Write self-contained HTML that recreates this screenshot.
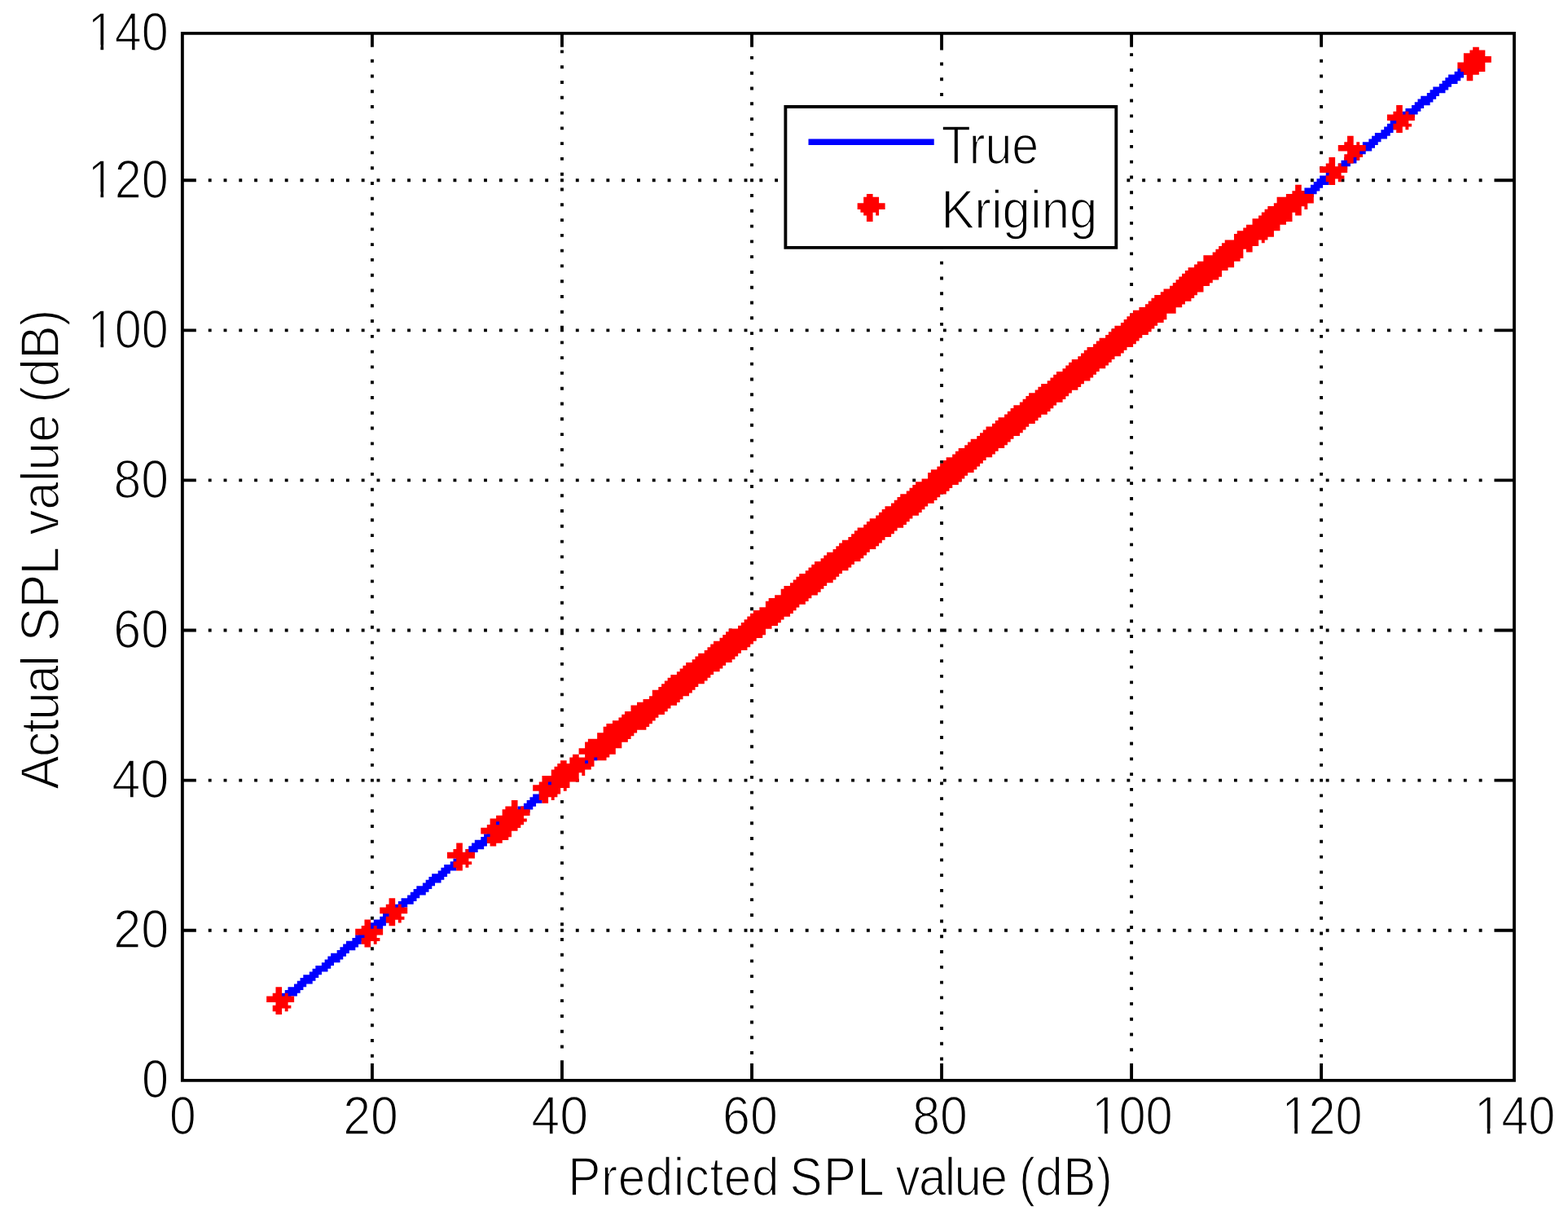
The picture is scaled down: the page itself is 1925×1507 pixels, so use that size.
<!DOCTYPE html>
<html lang="en">
<head>
<meta charset="utf-8">
<title>Predicted vs actual SPL value</title>
<style>
html,body{margin:0;padding:0;background:#fff;}
body{width:1925px;height:1507px;overflow:hidden;}
svg{display:block;}
text{font-family:"Liberation Sans",sans-serif;fill:#000;stroke:#fff;stroke-width:1.6px;stroke-linejoin:miter;}
</style>
</head>
<body>
<svg width="1925" height="1507" viewBox="0 0 1925 1507">
<rect width="1925" height="1507" fill="#fff"/>
<g transform="translate(0.175 1.373) scale(3.7588 3.7572)">
<path fill="#000" d="M59 10h436.03v1.03h-436.03zM59 352h436.03v1.03h-436.03zM59 11h1.03v47.03h-1.03zM59 59h1.03v48.03h-1.03zM59 108h1.03v48.03h-1.03zM59 157h1.03v48.03h-1.03zM59 206h1.03v48.03h-1.03zM59 255h1.03v48.03h-1.03zM59 304h1.03v48.03h-1.03zM121 11h1.03v4.03h-1.03zM121 19h1.03v1.03h-1.03zM121 24h1.03v1.03h-1.03zM121 29h1.03v1.03h-1.03zM121 34h1.03v1.03h-1.03zM121 39h1.03v1.03h-1.03zM121 44h1.03v1.03h-1.03zM121 49h1.03v1.03h-1.03zM121 54h1.03v1.03h-1.03zM121 59h1.03v1.03h-1.03zM121 64h1.03v1.03h-1.03zM121 69h1.03v1.03h-1.03zM121 74h1.03v1.03h-1.03zM121 79h1.03v1.03h-1.03zM121 84h1.03v1.03h-1.03zM121 89h1.03v1.03h-1.03zM121 94h1.03v1.03h-1.03zM121 99h1.03v1.03h-1.03zM121 104h1.03v1.03h-1.03zM121 109h1.03v1.03h-1.03zM121 114h1.03v1.03h-1.03zM121 119h1.03v1.03h-1.03zM121 124h1.03v1.03h-1.03zM121 129h1.03v1.03h-1.03zM121 134h1.03v1.03h-1.03zM121 139h1.03v1.03h-1.03zM121 144h1.03v1.03h-1.03zM121 149h1.03v1.03h-1.03zM121 154h1.03v1.03h-1.03zM121 159h1.03v1.03h-1.03zM121 164h1.03v1.03h-1.03zM121 169h1.03v1.03h-1.03zM121 174h1.03v1.03h-1.03zM121 179h1.03v1.03h-1.03zM121 184h1.03v1.03h-1.03zM121 189h1.03v1.03h-1.03zM121 194h1.03v1.03h-1.03zM121 199h1.03v1.03h-1.03zM121 204h1.03v1.03h-1.03zM121 209h1.03v1.03h-1.03zM121 214h1.03v1.03h-1.03zM121 219h1.03v1.03h-1.03zM121 224h1.03v1.03h-1.03zM121 229h1.03v1.03h-1.03zM121 234h1.03v1.03h-1.03zM121 239h1.03v1.03h-1.03zM121 244h1.03v1.03h-1.03zM121 249h1.03v1.03h-1.03zM121 254h1.03v1.03h-1.03zM121 259h1.03v1.03h-1.03zM121 264h1.03v1.03h-1.03zM121 269h1.03v1.03h-1.03zM121 274h1.03v1.03h-1.03zM121 279h1.03v1.03h-1.03zM121 284h1.03v1.03h-1.03zM121 289h1.03v1.03h-1.03zM121 294h1.03v1.03h-1.03zM121 299h1.03v1.03h-1.03zM121 304h1.03v1.03h-1.03zM121 309h1.03v1.03h-1.03zM121 314h1.03v1.03h-1.03zM121 319h1.03v1.03h-1.03zM121 324h1.03v1.03h-1.03zM121 329h1.03v1.03h-1.03zM121 334h1.03v1.03h-1.03zM121 339h1.03v1.03h-1.03zM121 344h1.03v1.03h-1.03zM121 347h1.03v5.03h-1.03zM183 11h1.03v4.03h-1.03zM183 16h1.03v1.03h-1.03zM183 21h1.03v1.03h-1.03zM183 26h1.03v1.03h-1.03zM183 31h1.03v1.03h-1.03zM183 36h1.03v1.03h-1.03zM183 41h1.03v1.03h-1.03zM183 46h1.03v1.03h-1.03zM183 51h1.03v1.03h-1.03zM183 56h1.03v1.03h-1.03zM183 58h1.03v1.03h-1.03zM183 61h1.03v1.03h-1.03zM183 66h1.03v1.03h-1.03zM183 71h1.03v1.03h-1.03zM183 76h1.03v1.03h-1.03zM183 81h1.03v1.03h-1.03zM183 86h1.03v1.03h-1.03zM183 91h1.03v1.03h-1.03zM183 96h1.03v1.03h-1.03zM183 101h1.03v1.03h-1.03zM183 106h1.03v2.03h-1.03zM183 111h1.03v1.03h-1.03zM183 116h1.03v1.03h-1.03zM183 121h1.03v1.03h-1.03zM183 126h1.03v1.03h-1.03zM183 131h1.03v1.03h-1.03zM183 136h1.03v1.03h-1.03zM183 141h1.03v1.03h-1.03zM183 146h1.03v1.03h-1.03zM183 151h1.03v1.03h-1.03zM183 156h1.03v1.03h-1.03zM183 161h1.03v1.03h-1.03zM183 166h1.03v1.03h-1.03zM183 171h1.03v1.03h-1.03zM183 176h1.03v1.03h-1.03zM183 181h1.03v1.03h-1.03zM183 186h1.03v1.03h-1.03zM183 191h1.03v1.03h-1.03zM183 196h1.03v1.03h-1.03zM183 201h1.03v1.03h-1.03zM183 205h1.03v2.03h-1.03zM183 211h1.03v1.03h-1.03zM183 216h1.03v1.03h-1.03zM183 221h1.03v1.03h-1.03zM183 226h1.03v1.03h-1.03zM183 231h1.03v1.03h-1.03zM183 236h1.03v1.03h-1.03zM183 241h1.03v1.03h-1.03zM183 246h1.03v1.03h-1.03zM183 251h1.03v1.03h-1.03zM183 254h1.03v1.03h-1.03zM183 256h1.03v1.03h-1.03zM183 261h1.03v1.03h-1.03zM183 266h1.03v1.03h-1.03zM183 271h1.03v1.03h-1.03zM183 276h1.03v1.03h-1.03zM183 281h1.03v1.03h-1.03zM183 286h1.03v1.03h-1.03zM183 291h1.03v1.03h-1.03zM183 296h1.03v1.03h-1.03zM183 301h1.03v1.03h-1.03zM183 303h1.03v1.03h-1.03zM183 306h1.03v1.03h-1.03zM183 311h1.03v1.03h-1.03zM183 316h1.03v1.03h-1.03zM183 321h1.03v1.03h-1.03zM183 326h1.03v1.03h-1.03zM183 331h1.03v1.03h-1.03zM183 336h1.03v1.03h-1.03zM183 341h1.03v1.03h-1.03zM183 346h1.03v6.03h-1.03zM245 11h1.03v4.03h-1.03zM245 18h1.03v1.03h-1.03zM245 23h1.03v1.03h-1.03zM245 28h1.03v1.03h-1.03zM245 33h1.03v1.03h-1.03zM245 38h1.03v1.03h-1.03zM245 43h1.03v1.03h-1.03zM245 48h1.03v1.03h-1.03zM245 53h1.03v1.03h-1.03zM245 58h1.03v1.03h-1.03zM245 63h1.03v1.03h-1.03zM245 68h1.03v1.03h-1.03zM245 73h1.03v1.03h-1.03zM245 78h1.03v1.03h-1.03zM245 83h1.03v1.03h-1.03zM245 88h1.03v1.03h-1.03zM245 93h1.03v1.03h-1.03zM245 98h1.03v1.03h-1.03zM245 103h1.03v1.03h-1.03zM245 108h1.03v1.03h-1.03zM245 113h1.03v1.03h-1.03zM245 118h1.03v1.03h-1.03zM245 123h1.03v1.03h-1.03zM245 128h1.03v1.03h-1.03zM245 133h1.03v1.03h-1.03zM245 138h1.03v1.03h-1.03zM245 143h1.03v1.03h-1.03zM245 148h1.03v1.03h-1.03zM245 153h1.03v1.03h-1.03zM245 158h1.03v1.03h-1.03zM245 163h1.03v1.03h-1.03zM245 168h1.03v1.03h-1.03zM245 173h1.03v1.03h-1.03zM245 178h1.03v1.03h-1.03zM245 183h1.03v1.03h-1.03zM245 188h1.03v1.03h-1.03zM245 193h1.03v1.03h-1.03zM245 198h1.03v1.03h-1.03zM245 203h1.03v1.03h-1.03zM245 208h1.03v1.03h-1.03zM245 213h1.03v1.03h-1.03zM245 218h1.03v1.03h-1.03zM245 223h1.03v1.03h-1.03zM245 228h1.03v1.03h-1.03zM245 233h1.03v1.03h-1.03zM245 238h1.03v1.03h-1.03zM245 243h1.03v1.03h-1.03zM245 248h1.03v1.03h-1.03zM245 253h1.03v1.03h-1.03zM245 258h1.03v1.03h-1.03zM245 263h1.03v1.03h-1.03zM245 268h1.03v1.03h-1.03zM245 273h1.03v1.03h-1.03zM245 278h1.03v1.03h-1.03zM245 283h1.03v1.03h-1.03zM245 288h1.03v1.03h-1.03zM245 293h1.03v1.03h-1.03zM245 298h1.03v1.03h-1.03zM245 303h1.03v1.03h-1.03zM245 308h1.03v1.03h-1.03zM245 313h1.03v1.03h-1.03zM245 318h1.03v1.03h-1.03zM245 323h1.03v1.03h-1.03zM245 328h1.03v1.03h-1.03zM245 333h1.03v1.03h-1.03zM245 338h1.03v1.03h-1.03zM245 343h1.03v1.03h-1.03zM245 347h1.03v5.03h-1.03zM307 11h1.03v5.03h-1.03zM307 20h1.03v1.03h-1.03zM307 25h1.03v1.03h-1.03zM307 30h1.03v1.03h-1.03zM307 35h1.03v1.03h-1.03zM307 40h1.03v1.03h-1.03zM307 45h1.03v1.03h-1.03zM307 50h1.03v1.03h-1.03zM307 55h1.03v1.03h-1.03zM307 60h1.03v1.03h-1.03zM307 65h1.03v1.03h-1.03zM307 70h1.03v1.03h-1.03zM307 75h1.03v1.03h-1.03zM307 80h1.03v1.03h-1.03zM307 85h1.03v1.03h-1.03zM307 90h1.03v1.03h-1.03zM307 95h1.03v1.03h-1.03zM307 100h1.03v1.03h-1.03zM307 105h1.03v1.03h-1.03zM307 110h1.03v1.03h-1.03zM307 115h1.03v1.03h-1.03zM307 120h1.03v1.03h-1.03zM307 125h1.03v1.03h-1.03zM307 130h1.03v1.03h-1.03zM307 135h1.03v1.03h-1.03zM307 140h1.03v1.03h-1.03zM307 145h1.03v1.03h-1.03zM307 150h1.03v1.03h-1.03zM307 155h1.03v1.03h-1.03zM307 160h1.03v1.03h-1.03zM307 165h1.03v1.03h-1.03zM307 170h1.03v1.03h-1.03zM307 175h1.03v1.03h-1.03zM307 180h1.03v1.03h-1.03zM307 185h1.03v1.03h-1.03zM307 190h1.03v1.03h-1.03zM307 195h1.03v1.03h-1.03zM307 200h1.03v1.03h-1.03zM307 210h1.03v1.03h-1.03zM307 215h1.03v1.03h-1.03zM307 220h1.03v1.03h-1.03zM307 225h1.03v1.03h-1.03zM307 230h1.03v1.03h-1.03zM307 235h1.03v1.03h-1.03zM307 240h1.03v1.03h-1.03zM307 245h1.03v1.03h-1.03zM307 250h1.03v1.03h-1.03zM307 255h1.03v1.03h-1.03zM307 260h1.03v1.03h-1.03zM307 265h1.03v1.03h-1.03zM307 270h1.03v1.03h-1.03zM307 275h1.03v1.03h-1.03zM307 280h1.03v1.03h-1.03zM307 285h1.03v1.03h-1.03zM307 290h1.03v1.03h-1.03zM307 295h1.03v1.03h-1.03zM307 300h1.03v1.03h-1.03zM307 305h1.03v1.03h-1.03zM307 310h1.03v1.03h-1.03zM307 315h1.03v1.03h-1.03zM307 320h1.03v1.03h-1.03zM307 325h1.03v1.03h-1.03zM307 330h1.03v1.03h-1.03zM307 335h1.03v1.03h-1.03zM307 340h1.03v1.03h-1.03zM307 345h1.03v1.03h-1.03zM307 347h1.03v5.03h-1.03zM369 11h1.03v4.03h-1.03zM369 17h1.03v1.03h-1.03zM369 22h1.03v1.03h-1.03zM369 27h1.03v1.03h-1.03zM369 32h1.03v1.03h-1.03zM369 37h1.03v1.03h-1.03zM369 42h1.03v1.03h-1.03zM369 47h1.03v1.03h-1.03zM369 52h1.03v1.03h-1.03zM369 57h1.03v1.03h-1.03zM369 62h1.03v1.03h-1.03zM369 67h1.03v1.03h-1.03zM369 72h1.03v1.03h-1.03zM369 77h1.03v1.03h-1.03zM369 82h1.03v1.03h-1.03zM369 87h1.03v1.03h-1.03zM369 92h1.03v1.03h-1.03zM369 97h1.03v1.03h-1.03zM369 102h1.03v1.03h-1.03zM369 112h1.03v1.03h-1.03zM369 117h1.03v1.03h-1.03zM369 122h1.03v1.03h-1.03zM369 127h1.03v1.03h-1.03zM369 132h1.03v1.03h-1.03zM369 137h1.03v1.03h-1.03zM369 142h1.03v1.03h-1.03zM369 147h1.03v1.03h-1.03zM369 152h1.03v1.03h-1.03zM369 157h1.03v1.03h-1.03zM369 162h1.03v1.03h-1.03zM369 167h1.03v1.03h-1.03zM369 172h1.03v1.03h-1.03zM369 177h1.03v1.03h-1.03zM369 182h1.03v1.03h-1.03zM369 187h1.03v1.03h-1.03zM369 192h1.03v1.03h-1.03zM369 197h1.03v1.03h-1.03zM369 202h1.03v1.03h-1.03zM369 207h1.03v1.03h-1.03zM369 212h1.03v1.03h-1.03zM369 217h1.03v1.03h-1.03zM369 222h1.03v1.03h-1.03zM369 227h1.03v1.03h-1.03zM369 232h1.03v1.03h-1.03zM369 237h1.03v1.03h-1.03zM369 242h1.03v1.03h-1.03zM369 247h1.03v1.03h-1.03zM369 252h1.03v1.03h-1.03zM369 257h1.03v1.03h-1.03zM369 262h1.03v1.03h-1.03zM369 267h1.03v1.03h-1.03zM369 272h1.03v1.03h-1.03zM369 277h1.03v1.03h-1.03zM369 282h1.03v1.03h-1.03zM369 287h1.03v1.03h-1.03zM369 292h1.03v1.03h-1.03zM369 297h1.03v1.03h-1.03zM369 302h1.03v1.03h-1.03zM369 307h1.03v1.03h-1.03zM369 312h1.03v1.03h-1.03zM369 317h1.03v1.03h-1.03zM369 322h1.03v1.03h-1.03zM369 327h1.03v1.03h-1.03zM369 332h1.03v1.03h-1.03zM369 337h1.03v1.03h-1.03zM369 342h1.03v1.03h-1.03zM369 347h1.03v5.03h-1.03zM431 11h1.03v4.03h-1.03zM431 19h1.03v1.03h-1.03zM431 24h1.03v1.03h-1.03zM431 29h1.03v1.03h-1.03zM431 34h1.03v1.03h-1.03zM431 39h1.03v1.03h-1.03zM431 44h1.03v1.03h-1.03zM431 49h1.03v1.03h-1.03zM431 54h1.03v1.03h-1.03zM431 59h1.03v1.03h-1.03zM431 64h1.03v1.03h-1.03zM431 69h1.03v1.03h-1.03zM431 74h1.03v1.03h-1.03zM431 79h1.03v1.03h-1.03zM431 84h1.03v1.03h-1.03zM431 89h1.03v1.03h-1.03zM431 94h1.03v1.03h-1.03zM431 99h1.03v1.03h-1.03zM431 104h1.03v1.03h-1.03zM431 109h1.03v1.03h-1.03zM431 114h1.03v1.03h-1.03zM431 119h1.03v1.03h-1.03zM431 124h1.03v1.03h-1.03zM431 129h1.03v1.03h-1.03zM431 134h1.03v1.03h-1.03zM431 139h1.03v1.03h-1.03zM431 144h1.03v1.03h-1.03zM431 149h1.03v1.03h-1.03zM431 154h1.03v1.03h-1.03zM431 159h1.03v1.03h-1.03zM431 164h1.03v1.03h-1.03zM431 169h1.03v1.03h-1.03zM431 174h1.03v1.03h-1.03zM431 179h1.03v1.03h-1.03zM431 184h1.03v1.03h-1.03zM431 189h1.03v1.03h-1.03zM431 194h1.03v1.03h-1.03zM431 199h1.03v1.03h-1.03zM431 204h1.03v1.03h-1.03zM431 209h1.03v1.03h-1.03zM431 214h1.03v1.03h-1.03zM431 219h1.03v1.03h-1.03zM431 224h1.03v1.03h-1.03zM431 229h1.03v1.03h-1.03zM431 234h1.03v1.03h-1.03zM431 239h1.03v1.03h-1.03zM431 244h1.03v1.03h-1.03zM431 249h1.03v1.03h-1.03zM431 254h1.03v1.03h-1.03zM431 259h1.03v1.03h-1.03zM431 264h1.03v1.03h-1.03zM431 269h1.03v1.03h-1.03zM431 274h1.03v1.03h-1.03zM431 279h1.03v1.03h-1.03zM431 284h1.03v1.03h-1.03zM431 289h1.03v1.03h-1.03zM431 294h1.03v1.03h-1.03zM431 299h1.03v1.03h-1.03zM431 304h1.03v1.03h-1.03zM431 309h1.03v1.03h-1.03zM431 314h1.03v1.03h-1.03zM431 319h1.03v1.03h-1.03zM431 324h1.03v1.03h-1.03zM431 329h1.03v1.03h-1.03zM431 334h1.03v1.03h-1.03zM431 339h1.03v1.03h-1.03zM431 344h1.03v1.03h-1.03zM431 347h1.03v5.03h-1.03zM494 11h1.03v47.03h-1.03zM494 59h1.03v48.03h-1.03zM494 108h1.03v48.03h-1.03zM494 157h1.03v48.03h-1.03zM494 206h1.03v48.03h-1.03zM494 255h1.03v48.03h-1.03zM494 304h1.03v48.03h-1.03zM59 58h5.03v1.03h-5.03zM59 107h5.03v1.03h-5.03zM59 156h5.03v1.03h-5.03zM59 205h5.03v1.03h-5.03zM59 254h5.03v1.03h-5.03zM59 303h5.03v1.03h-5.03zM68 58h1.03v1.03h-1.03zM68 107h1.03v1.03h-1.03zM68 156h1.03v1.03h-1.03zM68 205h1.03v1.03h-1.03zM68 254h1.03v1.03h-1.03zM68 303h1.03v1.03h-1.03zM73 58h1.03v1.03h-1.03zM73 107h1.03v1.03h-1.03zM73 156h1.03v1.03h-1.03zM73 205h1.03v1.03h-1.03zM73 254h1.03v1.03h-1.03zM73 303h1.03v1.03h-1.03zM78 58h1.03v1.03h-1.03zM78 107h1.03v1.03h-1.03zM78 156h1.03v1.03h-1.03zM78 205h1.03v1.03h-1.03zM78 254h1.03v1.03h-1.03zM78 303h1.03v1.03h-1.03zM83 58h1.03v1.03h-1.03zM83 107h1.03v1.03h-1.03zM83 156h1.03v1.03h-1.03zM83 205h1.03v1.03h-1.03zM83 254h1.03v1.03h-1.03zM83 303h1.03v1.03h-1.03zM88 58h1.03v1.03h-1.03zM88 107h1.03v1.03h-1.03zM88 156h1.03v1.03h-1.03zM88 205h1.03v1.03h-1.03zM88 254h1.03v1.03h-1.03zM88 303h1.03v1.03h-1.03zM93 58h1.03v1.03h-1.03zM93 107h1.03v1.03h-1.03zM93 156h1.03v1.03h-1.03zM93 205h1.03v1.03h-1.03zM93 254h1.03v1.03h-1.03zM93 303h1.03v1.03h-1.03zM98 58h1.03v1.03h-1.03zM98 107h1.03v1.03h-1.03zM98 156h1.03v1.03h-1.03zM98 205h1.03v1.03h-1.03zM98 254h1.03v1.03h-1.03zM98 303h1.03v1.03h-1.03zM103 58h1.03v1.03h-1.03zM103 107h1.03v1.03h-1.03zM103 156h1.03v1.03h-1.03zM103 205h1.03v1.03h-1.03zM103 254h1.03v1.03h-1.03zM103 303h1.03v1.03h-1.03zM108 58h1.03v1.03h-1.03zM108 107h1.03v1.03h-1.03zM108 156h1.03v1.03h-1.03zM108 205h1.03v1.03h-1.03zM108 254h1.03v1.03h-1.03zM108 303h1.03v1.03h-1.03zM113 58h1.03v1.03h-1.03zM113 107h1.03v1.03h-1.03zM113 156h1.03v1.03h-1.03zM113 205h1.03v1.03h-1.03zM113 254h1.03v1.03h-1.03zM113 303h1.03v1.03h-1.03zM118 58h1.03v1.03h-1.03zM118 107h1.03v1.03h-1.03zM118 156h1.03v1.03h-1.03zM118 205h1.03v1.03h-1.03zM118 254h1.03v1.03h-1.03zM118 303h1.03v1.03h-1.03zM123 58h1.03v1.03h-1.03zM123 107h1.03v1.03h-1.03zM123 156h1.03v1.03h-1.03zM123 205h1.03v1.03h-1.03zM123 254h1.03v1.03h-1.03zM123 303h1.03v1.03h-1.03zM128 58h1.03v1.03h-1.03zM128 107h1.03v1.03h-1.03zM128 156h1.03v1.03h-1.03zM128 205h1.03v1.03h-1.03zM128 254h1.03v1.03h-1.03zM128 303h1.03v1.03h-1.03zM133 58h1.03v1.03h-1.03zM133 107h1.03v1.03h-1.03zM133 156h1.03v1.03h-1.03zM133 205h1.03v1.03h-1.03zM133 254h1.03v1.03h-1.03zM133 303h1.03v1.03h-1.03zM138 58h1.03v1.03h-1.03zM138 107h1.03v1.03h-1.03zM138 156h1.03v1.03h-1.03zM138 205h1.03v1.03h-1.03zM138 254h1.03v1.03h-1.03zM138 303h1.03v1.03h-1.03zM143 58h1.03v1.03h-1.03zM143 107h1.03v1.03h-1.03zM143 156h1.03v1.03h-1.03zM143 205h1.03v1.03h-1.03zM143 254h1.03v1.03h-1.03zM143 303h1.03v1.03h-1.03zM148 58h1.03v1.03h-1.03zM148 107h1.03v1.03h-1.03zM148 156h1.03v1.03h-1.03zM148 205h1.03v1.03h-1.03zM148 254h1.03v1.03h-1.03zM148 303h1.03v1.03h-1.03zM153 58h1.03v1.03h-1.03zM153 107h1.03v1.03h-1.03zM153 156h1.03v1.03h-1.03zM153 205h1.03v1.03h-1.03zM153 254h1.03v1.03h-1.03zM153 303h1.03v1.03h-1.03zM158 58h1.03v1.03h-1.03zM158 107h1.03v1.03h-1.03zM158 156h1.03v1.03h-1.03zM158 205h1.03v1.03h-1.03zM158 254h1.03v1.03h-1.03zM158 303h1.03v1.03h-1.03zM163 58h1.03v1.03h-1.03zM163 107h1.03v1.03h-1.03zM163 156h1.03v1.03h-1.03zM163 205h1.03v1.03h-1.03zM163 254h1.03v1.03h-1.03zM163 303h1.03v1.03h-1.03zM168 58h1.03v1.03h-1.03zM168 107h1.03v1.03h-1.03zM168 156h1.03v1.03h-1.03zM168 205h1.03v1.03h-1.03zM168 254h1.03v1.03h-1.03zM168 303h1.03v1.03h-1.03zM173 58h1.03v1.03h-1.03zM173 107h1.03v1.03h-1.03zM173 156h1.03v1.03h-1.03zM173 205h1.03v1.03h-1.03zM173 254h1.03v1.03h-1.03zM173 303h1.03v1.03h-1.03zM178 58h1.03v1.03h-1.03zM178 107h1.03v1.03h-1.03zM178 156h1.03v1.03h-1.03zM178 205h1.03v1.03h-1.03zM178 254h1.03v1.03h-1.03zM178 303h1.03v1.03h-1.03zM188 58h1.03v1.03h-1.03zM188 107h1.03v1.03h-1.03zM188 156h1.03v1.03h-1.03zM188 205h1.03v1.03h-1.03zM188 254h1.03v1.03h-1.03zM188 303h1.03v1.03h-1.03zM193 58h1.03v1.03h-1.03zM193 107h1.03v1.03h-1.03zM193 156h1.03v1.03h-1.03zM193 205h1.03v1.03h-1.03zM193 254h1.03v1.03h-1.03zM193 303h1.03v1.03h-1.03zM198 58h1.03v1.03h-1.03zM198 107h1.03v1.03h-1.03zM198 156h1.03v1.03h-1.03zM198 205h1.03v1.03h-1.03zM198 254h1.03v1.03h-1.03zM198 303h1.03v1.03h-1.03zM203 58h1.03v1.03h-1.03zM203 107h1.03v1.03h-1.03zM203 156h1.03v1.03h-1.03zM203 205h1.03v1.03h-1.03zM203 254h1.03v1.03h-1.03zM203 303h1.03v1.03h-1.03zM208 58h1.03v1.03h-1.03zM208 107h1.03v1.03h-1.03zM208 156h1.03v1.03h-1.03zM208 205h1.03v1.03h-1.03zM208 254h1.03v1.03h-1.03zM208 303h1.03v1.03h-1.03zM213 58h1.03v1.03h-1.03zM213 107h1.03v1.03h-1.03zM213 156h1.03v1.03h-1.03zM213 205h1.03v1.03h-1.03zM213 254h1.03v1.03h-1.03zM213 303h1.03v1.03h-1.03zM218 58h1.03v1.03h-1.03zM218 107h1.03v1.03h-1.03zM218 156h1.03v1.03h-1.03zM218 205h1.03v1.03h-1.03zM218 254h1.03v1.03h-1.03zM218 303h1.03v1.03h-1.03zM223 58h1.03v1.03h-1.03zM223 107h1.03v1.03h-1.03zM223 156h1.03v1.03h-1.03zM223 205h1.03v1.03h-1.03zM223 254h1.03v1.03h-1.03zM223 303h1.03v1.03h-1.03zM228 58h1.03v1.03h-1.03zM228 107h1.03v1.03h-1.03zM228 156h1.03v1.03h-1.03zM228 205h1.03v1.03h-1.03zM228 254h1.03v1.03h-1.03zM228 303h1.03v1.03h-1.03zM233 58h1.03v1.03h-1.03zM233 107h1.03v1.03h-1.03zM233 156h1.03v1.03h-1.03zM233 205h1.03v1.03h-1.03zM233 254h1.03v1.03h-1.03zM233 303h1.03v1.03h-1.03zM238 58h1.03v1.03h-1.03zM238 107h1.03v1.03h-1.03zM238 156h1.03v1.03h-1.03zM238 205h1.03v1.03h-1.03zM238 254h1.03v1.03h-1.03zM238 303h1.03v1.03h-1.03zM243 58h1.03v1.03h-1.03zM243 107h1.03v1.03h-1.03zM243 156h1.03v1.03h-1.03zM243 205h1.03v1.03h-1.03zM243 254h1.03v1.03h-1.03zM243 303h1.03v1.03h-1.03zM248 58h1.03v1.03h-1.03zM248 107h1.03v1.03h-1.03zM248 156h1.03v1.03h-1.03zM248 205h1.03v1.03h-1.03zM248 254h1.03v1.03h-1.03zM248 303h1.03v1.03h-1.03zM253 58h1.03v1.03h-1.03zM253 107h1.03v1.03h-1.03zM253 156h1.03v1.03h-1.03zM253 205h1.03v1.03h-1.03zM253 254h1.03v1.03h-1.03zM253 303h1.03v1.03h-1.03zM258 58h1.03v1.03h-1.03zM258 107h1.03v1.03h-1.03zM258 156h1.03v1.03h-1.03zM258 205h1.03v1.03h-1.03zM258 254h1.03v1.03h-1.03zM258 303h1.03v1.03h-1.03zM263 58h1.03v1.03h-1.03zM263 107h1.03v1.03h-1.03zM263 156h1.03v1.03h-1.03zM263 205h1.03v1.03h-1.03zM263 254h1.03v1.03h-1.03zM263 303h1.03v1.03h-1.03zM268 58h1.03v1.03h-1.03zM268 107h1.03v1.03h-1.03zM268 156h1.03v1.03h-1.03zM268 205h1.03v1.03h-1.03zM268 254h1.03v1.03h-1.03zM268 303h1.03v1.03h-1.03zM273 58h1.03v1.03h-1.03zM273 107h1.03v1.03h-1.03zM273 156h1.03v1.03h-1.03zM273 205h1.03v1.03h-1.03zM273 254h1.03v1.03h-1.03zM273 303h1.03v1.03h-1.03zM278 58h1.03v1.03h-1.03zM278 107h1.03v1.03h-1.03zM278 156h1.03v1.03h-1.03zM278 205h1.03v1.03h-1.03zM278 254h1.03v1.03h-1.03zM278 303h1.03v1.03h-1.03zM283 58h1.03v1.03h-1.03zM283 107h1.03v1.03h-1.03zM283 156h1.03v1.03h-1.03zM283 205h1.03v1.03h-1.03zM283 254h1.03v1.03h-1.03zM283 303h1.03v1.03h-1.03zM288 58h1.03v1.03h-1.03zM288 107h1.03v1.03h-1.03zM288 156h1.03v1.03h-1.03zM288 205h1.03v1.03h-1.03zM288 254h1.03v1.03h-1.03zM288 303h1.03v1.03h-1.03zM293 58h1.03v1.03h-1.03zM293 107h1.03v1.03h-1.03zM293 156h1.03v1.03h-1.03zM293 205h1.03v1.03h-1.03zM293 254h1.03v1.03h-1.03zM293 303h1.03v1.03h-1.03zM298 58h1.03v1.03h-1.03zM298 107h1.03v1.03h-1.03zM298 156h1.03v1.03h-1.03zM298 205h1.03v1.03h-1.03zM298 254h1.03v1.03h-1.03zM298 303h1.03v1.03h-1.03zM303 58h1.03v1.03h-1.03zM303 107h1.03v1.03h-1.03zM303 156h1.03v1.03h-1.03zM303 205h1.03v1.03h-1.03zM303 254h1.03v1.03h-1.03zM303 303h1.03v1.03h-1.03zM308 58h1.03v1.03h-1.03zM308 107h1.03v1.03h-1.03zM308 156h1.03v1.03h-1.03zM308 254h1.03v1.03h-1.03zM308 303h1.03v1.03h-1.03zM313 58h1.03v1.03h-1.03zM313 107h1.03v1.03h-1.03zM313 156h1.03v1.03h-1.03zM313 205h1.03v1.03h-1.03zM313 254h1.03v1.03h-1.03zM313 303h1.03v1.03h-1.03zM318 58h1.03v1.03h-1.03zM318 107h1.03v1.03h-1.03zM318 156h1.03v1.03h-1.03zM318 205h1.03v1.03h-1.03zM318 254h1.03v1.03h-1.03zM318 303h1.03v1.03h-1.03zM323 58h1.03v1.03h-1.03zM323 107h1.03v1.03h-1.03zM323 156h1.03v1.03h-1.03zM323 205h1.03v1.03h-1.03zM323 254h1.03v1.03h-1.03zM323 303h1.03v1.03h-1.03zM328 58h1.03v1.03h-1.03zM328 107h1.03v1.03h-1.03zM328 156h1.03v1.03h-1.03zM328 205h1.03v1.03h-1.03zM328 254h1.03v1.03h-1.03zM328 303h1.03v1.03h-1.03zM333 58h1.03v1.03h-1.03zM333 107h1.03v1.03h-1.03zM333 156h1.03v1.03h-1.03zM333 205h1.03v1.03h-1.03zM333 254h1.03v1.03h-1.03zM333 303h1.03v1.03h-1.03zM338 58h1.03v1.03h-1.03zM338 107h1.03v1.03h-1.03zM338 156h1.03v1.03h-1.03zM338 205h1.03v1.03h-1.03zM338 254h1.03v1.03h-1.03zM338 303h1.03v1.03h-1.03zM343 58h1.03v1.03h-1.03zM343 107h1.03v1.03h-1.03zM343 156h1.03v1.03h-1.03zM343 205h1.03v1.03h-1.03zM343 254h1.03v1.03h-1.03zM343 303h1.03v1.03h-1.03zM348 58h1.03v1.03h-1.03zM348 107h1.03v1.03h-1.03zM348 156h1.03v1.03h-1.03zM348 205h1.03v1.03h-1.03zM348 254h1.03v1.03h-1.03zM348 303h1.03v1.03h-1.03zM353 58h1.03v1.03h-1.03zM353 107h1.03v1.03h-1.03zM353 156h1.03v1.03h-1.03zM353 205h1.03v1.03h-1.03zM353 254h1.03v1.03h-1.03zM353 303h1.03v1.03h-1.03zM358 58h1.03v1.03h-1.03zM358 107h1.03v1.03h-1.03zM358 156h1.03v1.03h-1.03zM358 205h1.03v1.03h-1.03zM358 254h1.03v1.03h-1.03zM358 303h1.03v1.03h-1.03zM363 58h1.03v1.03h-1.03zM363 107h1.03v1.03h-1.03zM363 156h1.03v1.03h-1.03zM363 205h1.03v1.03h-1.03zM363 254h1.03v1.03h-1.03zM363 303h1.03v1.03h-1.03zM368 58h1.03v1.03h-1.03zM368 156h1.03v1.03h-1.03zM368 205h1.03v1.03h-1.03zM368 254h1.03v1.03h-1.03zM368 303h1.03v1.03h-1.03zM373 58h1.03v1.03h-1.03zM373 107h1.03v1.03h-1.03zM373 156h1.03v1.03h-1.03zM373 205h1.03v1.03h-1.03zM373 254h1.03v1.03h-1.03zM373 303h1.03v1.03h-1.03zM378 58h1.03v1.03h-1.03zM378 107h1.03v1.03h-1.03zM378 156h1.03v1.03h-1.03zM378 205h1.03v1.03h-1.03zM378 254h1.03v1.03h-1.03zM378 303h1.03v1.03h-1.03zM383 58h1.03v1.03h-1.03zM383 107h1.03v1.03h-1.03zM383 156h1.03v1.03h-1.03zM383 205h1.03v1.03h-1.03zM383 254h1.03v1.03h-1.03zM383 303h1.03v1.03h-1.03zM388 58h1.03v1.03h-1.03zM388 107h1.03v1.03h-1.03zM388 156h1.03v1.03h-1.03zM388 205h1.03v1.03h-1.03zM388 254h1.03v1.03h-1.03zM388 303h1.03v1.03h-1.03zM393 58h1.03v1.03h-1.03zM393 107h1.03v1.03h-1.03zM393 156h1.03v1.03h-1.03zM393 205h1.03v1.03h-1.03zM393 254h1.03v1.03h-1.03zM393 303h1.03v1.03h-1.03zM398 58h1.03v1.03h-1.03zM398 107h1.03v1.03h-1.03zM398 156h1.03v1.03h-1.03zM398 205h1.03v1.03h-1.03zM398 254h1.03v1.03h-1.03zM398 303h1.03v1.03h-1.03zM403 58h1.03v1.03h-1.03zM403 107h1.03v1.03h-1.03zM403 156h1.03v1.03h-1.03zM403 205h1.03v1.03h-1.03zM403 254h1.03v1.03h-1.03zM403 303h1.03v1.03h-1.03zM408 58h1.03v1.03h-1.03zM408 107h1.03v1.03h-1.03zM408 156h1.03v1.03h-1.03zM408 205h1.03v1.03h-1.03zM408 254h1.03v1.03h-1.03zM408 303h1.03v1.03h-1.03zM413 58h1.03v1.03h-1.03zM413 107h1.03v1.03h-1.03zM413 156h1.03v1.03h-1.03zM413 205h1.03v1.03h-1.03zM413 254h1.03v1.03h-1.03zM413 303h1.03v1.03h-1.03zM418 58h1.03v1.03h-1.03zM418 107h1.03v1.03h-1.03zM418 156h1.03v1.03h-1.03zM418 205h1.03v1.03h-1.03zM418 254h1.03v1.03h-1.03zM418 303h1.03v1.03h-1.03zM423 58h1.03v1.03h-1.03zM423 107h1.03v1.03h-1.03zM423 156h1.03v1.03h-1.03zM423 205h1.03v1.03h-1.03zM423 254h1.03v1.03h-1.03zM423 303h1.03v1.03h-1.03zM428 58h1.03v1.03h-1.03zM428 107h1.03v1.03h-1.03zM428 156h1.03v1.03h-1.03zM428 205h1.03v1.03h-1.03zM428 254h1.03v1.03h-1.03zM428 303h1.03v1.03h-1.03zM433 58h1.03v1.03h-1.03zM433 107h1.03v1.03h-1.03zM433 156h1.03v1.03h-1.03zM433 205h1.03v1.03h-1.03zM433 254h1.03v1.03h-1.03zM433 303h1.03v1.03h-1.03zM438 58h1.03v1.03h-1.03zM438 107h1.03v1.03h-1.03zM438 156h1.03v1.03h-1.03zM438 205h1.03v1.03h-1.03zM438 254h1.03v1.03h-1.03zM438 303h1.03v1.03h-1.03zM443 58h1.03v1.03h-1.03zM443 107h1.03v1.03h-1.03zM443 156h1.03v1.03h-1.03zM443 205h1.03v1.03h-1.03zM443 254h1.03v1.03h-1.03zM443 303h1.03v1.03h-1.03zM448 58h1.03v1.03h-1.03zM448 107h1.03v1.03h-1.03zM448 156h1.03v1.03h-1.03zM448 205h1.03v1.03h-1.03zM448 254h1.03v1.03h-1.03zM448 303h1.03v1.03h-1.03zM453 58h1.03v1.03h-1.03zM453 107h1.03v1.03h-1.03zM453 156h1.03v1.03h-1.03zM453 205h1.03v1.03h-1.03zM453 254h1.03v1.03h-1.03zM453 303h1.03v1.03h-1.03zM458 58h1.03v1.03h-1.03zM458 107h1.03v1.03h-1.03zM458 156h1.03v1.03h-1.03zM458 205h1.03v1.03h-1.03zM458 254h1.03v1.03h-1.03zM458 303h1.03v1.03h-1.03zM463 58h1.03v1.03h-1.03zM463 107h1.03v1.03h-1.03zM463 156h1.03v1.03h-1.03zM463 205h1.03v1.03h-1.03zM463 254h1.03v1.03h-1.03zM463 303h1.03v1.03h-1.03zM468 58h1.03v1.03h-1.03zM468 107h1.03v1.03h-1.03zM468 156h1.03v1.03h-1.03zM468 205h1.03v1.03h-1.03zM468 254h1.03v1.03h-1.03zM468 303h1.03v1.03h-1.03zM473 58h1.03v1.03h-1.03zM473 107h1.03v1.03h-1.03zM473 156h1.03v1.03h-1.03zM473 205h1.03v1.03h-1.03zM473 254h1.03v1.03h-1.03zM473 303h1.03v1.03h-1.03zM478 58h1.03v1.03h-1.03zM478 107h1.03v1.03h-1.03zM478 156h1.03v1.03h-1.03zM478 205h1.03v1.03h-1.03zM478 254h1.03v1.03h-1.03zM478 303h1.03v1.03h-1.03zM483 58h1.03v1.03h-1.03zM483 107h1.03v1.03h-1.03zM483 156h1.03v1.03h-1.03zM483 205h1.03v1.03h-1.03zM483 254h1.03v1.03h-1.03zM483 303h1.03v1.03h-1.03zM488 58h7.03v1.03h-7.03zM488 107h7.03v1.03h-7.03zM488 156h7.03v1.03h-7.03zM488 205h7.03v1.03h-7.03zM488 254h7.03v1.03h-7.03zM488 303h7.03v1.03h-7.03zM368 107h2.03v1.03h-2.03zM307 205h2.03v1.03h-2.03z"/>
<path fill="#0000ff" d="M477 21h1.03v1.03h-1.03zM476 22h3.03v1.03h-3.03zM475 23h4.03v1.03h-4.03zM473 24h5.03v1.03h-5.03zM472 25h5.03v1.03h-5.03zM471 26h5.03v1.03h-5.03zM470 27h4.03v1.03h-4.03zM468 28h5.03v1.03h-5.03zM467 29h5.03v1.03h-5.03zM466 30h4.03v1.03h-4.03zM464 31h5.03v1.03h-5.03zM463 32h5.03v1.03h-5.03zM462 33h5.03v1.03h-5.03zM461 34h4.03v1.03h-4.03zM459 35h5.03v1.03h-5.03zM458 36h5.03v1.03h-5.03zM457 37h5.03v1.03h-5.03zM456 38h1.03v1.03h-1.03zM454 39h3.03v1.03h-3.03zM453 40h4.03v1.03h-4.03zM452 41h4.03v1.03h-4.03zM451 42h4.03v1.03h-4.03zM449 43h5.03v1.03h-5.03zM448 44h5.03v1.03h-5.03zM447 45h4.03v1.03h-4.03zM445 46h5.03v1.03h-5.03zM444 47h5.03v1.03h-5.03zM443 48h5.03v1.03h-5.03zM443 49h3.03v1.03h-3.03zM441 50h4.03v1.03h-4.03zM439 51h5.03v1.03h-5.03zM438 52h5.03v1.03h-5.03zM437 53h4.03v1.03h-4.03zM437 54h3.03v1.03h-3.03zM434 55h1.03v1.03h-1.03zM433 56h2.03v1.03h-2.03zM431 57h4.03v1.03h-4.03zM430 58h5.03v1.03h-5.03zM429 59h5.03v1.03h-5.03zM428 60h4.03v1.03h-4.03zM426 61h5.03v1.03h-5.03zM425 62h5.03v1.03h-5.03zM425 63h4.03v1.03h-4.03zM176 258h1.03v1.03h-1.03zM174 259h3.03v1.03h-3.03zM173 260h5.03v1.03h-5.03zM172 261h5.03v1.03h-5.03zM171 262h4.03v1.03h-4.03zM169 263h5.03v1.03h-5.03zM168 264h5.03v1.03h-5.03zM159 271h2.03v1.03h-2.03zM158 272h3.03v1.03h-3.03zM157 273h4.03v1.03h-4.03zM155 274h5.03v1.03h-5.03zM154 275h5.03v1.03h-5.03zM153 276h5.03v1.03h-5.03zM152 277h4.03v1.03h-4.03zM152 278h3.03v1.03h-3.03zM149 279h1.03v1.03h-1.03zM148 280h2.03v1.03h-2.03zM147 281h3.03v1.03h-3.03zM145 282h5.03v1.03h-5.03zM144 283h5.03v1.03h-5.03zM143 284h4.03v1.03h-4.03zM141 285h5.03v1.03h-5.03zM140 286h5.03v1.03h-5.03zM139 287h5.03v1.03h-5.03zM138 288h4.03v1.03h-4.03zM136 289h5.03v1.03h-5.03zM135 290h5.03v1.03h-5.03zM134 291h5.03v1.03h-5.03zM133 292h4.03v1.03h-4.03zM131 293h5.03v1.03h-5.03zM130 294h5.03v1.03h-5.03zM129 295h4.03v1.03h-4.03zM128 296h4.03v1.03h-4.03zM126 297h2.03v1.03h-2.03zM125 298h3.03v1.03h-3.03zM124 299h4.03v1.03h-4.03zM122 300h5.03v1.03h-5.03zM121 301h5.03v1.03h-5.03zM120 302h5.03v1.03h-5.03zM120 303h3.03v1.03h-3.03zM117 304h3.03v1.03h-3.03zM116 305h4.03v1.03h-4.03zM115 306h4.03v1.03h-4.03zM113 307h5.03v1.03h-5.03zM112 308h5.03v1.03h-5.03zM111 309h5.03v1.03h-5.03zM110 310h4.03v1.03h-4.03zM108 311h5.03v1.03h-5.03zM107 312h5.03v1.03h-5.03zM106 313h5.03v1.03h-5.03zM105 314h4.03v1.03h-4.03zM103 315h5.03v1.03h-5.03zM102 316h5.03v1.03h-5.03zM101 317h4.03v1.03h-4.03zM99 318h5.03v1.03h-5.03zM98 319h5.03v1.03h-5.03zM97 320h5.03v1.03h-5.03zM96 321h4.03v1.03h-4.03zM94 322h5.03v1.03h-5.03zM93 323h5.03v1.03h-5.03zM92 324h5.03v1.03h-5.03zM91 325h4.03v1.03h-4.03z"/>
<path fill="#ff0000" d="M481 15h2.03v1.03h-2.03zM480 16h5.03v1.03h-5.03zM478 17h7.03v1.03h-7.03zM478 18h9.03v2.03h-9.03zM476 20h9.03v2.03h-9.03zM477 22h8.03v1.03h-8.03zM478 23h5.03v1.03h-5.03zM479 24h2.03v2.03h-2.03zM456 34h2.03v2.03h-2.03zM456 42h2.03v1.03h-2.03zM455 36h3.03v1.03h-3.03zM455 41h3.03v1.03h-3.03zM459 36h1.03v1.03h-1.03zM459 41h1.03v1.03h-1.03zM453 37h9.03v2.03h-9.03zM456 39h4.03v1.03h-4.03zM455 40h6.03v1.03h-6.03zM440 44h2.03v2.03h-2.03zM440 52h2.03v1.03h-2.03zM439 46h3.03v1.03h-3.03zM439 51h3.03v1.03h-3.03zM443 46h1.03v1.03h-1.03zM443 51h1.03v1.03h-1.03zM437 47h9.03v2.03h-9.03zM440 49h4.03v1.03h-4.03zM439 50h6.03v1.03h-6.03zM434 51h2.03v2.03h-2.03zM434 59h2.03v1.03h-2.03zM433 53h3.03v1.03h-3.03zM433 58h3.03v1.03h-3.03zM437 53h1.03v1.03h-1.03zM437 58h1.03v1.03h-1.03zM431 54h9.03v2.03h-9.03zM434 56h4.03v1.03h-4.03zM433 57h6.03v1.03h-6.03zM423 60h2.03v2.03h-2.03zM423 69h2.03v1.03h-2.03zM422 62h4.03v1.03h-4.03zM420 63h9.03v1.03h-9.03zM417 64h12.03v2.03h-12.03zM416 66h11.03v1.03h-11.03zM414 67h11.03v1.03h-11.03zM426 67h1.03v1.03h-1.03zM413 68h12.03v1.03h-12.03zM412 69h10.03v1.03h-10.03zM411 70h11.03v1.03h-11.03zM409 71h13.03v1.03h-13.03zM409 72h11.03v1.03h-11.03zM407 73h11.03v1.03h-11.03zM406 74h12.03v1.03h-12.03zM404 75h12.03v1.03h-12.03zM403 76h13.03v1.03h-13.03zM403 77h11.03v1.03h-11.03zM400 78h11.03v1.03h-11.03zM412 78h1.03v1.03h-1.03zM399 79h12.03v1.03h-12.03zM398 80h11.03v1.03h-11.03zM397 81h9.03v1.03h-9.03zM407 81h2.03v1.03h-2.03zM396 82h10.03v1.03h-10.03zM393 83h13.03v1.03h-13.03zM393 84h12.03v1.03h-12.03zM391 85h12.03v1.03h-12.03zM390 86h13.03v1.03h-13.03zM388 87h13.03v1.03h-13.03zM387 88h12.03v1.03h-12.03zM386 89h13.03v1.03h-13.03zM385 90h13.03v1.03h-13.03zM384 91h12.03v1.03h-12.03zM383 92h12.03v1.03h-12.03zM382 93h11.03v1.03h-11.03zM380 94h13.03v1.03h-13.03zM379 95h12.03v1.03h-12.03zM377 96h13.03v1.03h-13.03zM376 97h13.03v1.03h-13.03zM375 98h12.03v1.03h-12.03zM374 99h12.03v1.03h-12.03zM372 100h12.03v1.03h-12.03zM370 101h14.03v1.03h-14.03zM369 102h12.03v1.03h-12.03zM368 103h13.03v1.03h-13.03zM367 104h13.03v1.03h-13.03zM366 105h12.03v1.03h-12.03zM364 106h13.03v1.03h-13.03zM363 107h13.03v1.03h-13.03zM362 108h13.03v1.03h-13.03zM361 109h12.03v1.03h-12.03zM359 110h13.03v1.03h-13.03zM358 111h13.03v1.03h-13.03zM357 112h13.03v1.03h-13.03zM355 113h13.03v1.03h-13.03zM354 114h13.03v1.03h-13.03zM353 115h13.03v1.03h-13.03zM352 116h12.03v1.03h-12.03zM350 117h13.03v1.03h-13.03zM349 118h13.03v1.03h-13.03zM348 119h13.03v1.03h-13.03zM347 120h12.03v1.03h-12.03zM345 121h13.03v1.03h-13.03zM344 122h13.03v1.03h-13.03zM343 123h13.03v1.03h-13.03zM342 124h12.03v1.03h-12.03zM340 125h13.03v1.03h-13.03zM339 126h13.03v1.03h-13.03zM338 127h12.03v1.03h-12.03zM336 128h13.03v1.03h-13.03zM335 129h13.03v1.03h-13.03zM334 130h13.03v1.03h-13.03zM333 131h12.03v1.03h-12.03zM331 132h13.03v1.03h-13.03zM330 133h13.03v1.03h-13.03zM329 134h13.03v1.03h-13.03zM328 135h12.03v1.03h-12.03zM326 136h13.03v1.03h-13.03zM325 137h13.03v1.03h-13.03zM324 138h12.03v1.03h-12.03zM322 139h13.03v1.03h-13.03zM321 140h13.03v1.03h-13.03zM320 141h13.03v1.03h-13.03zM319 142h12.03v1.03h-12.03zM317 143h13.03v1.03h-13.03zM316 144h13.03v1.03h-13.03zM315 145h13.03v1.03h-13.03zM313 146h13.03v1.03h-13.03zM312 147h13.03v1.03h-13.03zM311 148h13.03v1.03h-13.03zM309 149h13.03v1.03h-13.03zM308 150h13.03v1.03h-13.03zM307 151h13.03v1.03h-13.03zM306 152h13.03v1.03h-13.03zM304 153h14.03v1.03h-14.03zM303 154h13.03v1.03h-13.03zM303 155h12.03v1.03h-12.03zM301 156h13.03v1.03h-13.03zM299 157h14.03v1.03h-14.03zM298 158h13.03v1.03h-13.03zM297 159h13.03v1.03h-13.03zM296 160h13.03v1.03h-13.03zM294 161h13.03v1.03h-13.03zM293 162h13.03v1.03h-13.03zM292 163h13.03v1.03h-13.03zM291 164h12.03v1.03h-12.03zM289 165h13.03v1.03h-13.03zM288 166h13.03v1.03h-13.03zM287 167h13.03v1.03h-13.03zM286 168h12.03v1.03h-12.03zM284 169h13.03v1.03h-13.03zM283 170h13.03v1.03h-13.03zM282 171h13.03v1.03h-13.03zM280 172h13.03v1.03h-13.03zM279 173h13.03v1.03h-13.03zM278 174h13.03v1.03h-13.03zM277 175h12.03v1.03h-12.03zM275 176h13.03v1.03h-13.03zM274 177h13.03v1.03h-13.03zM273 178h13.03v1.03h-13.03zM272 179h12.03v1.03h-12.03zM270 180h13.03v1.03h-13.03zM269 181h13.03v1.03h-13.03zM268 182h13.03v1.03h-13.03zM266 183h13.03v1.03h-13.03zM265 184h13.03v1.03h-13.03zM264 185h13.03v1.03h-13.03zM263 186h12.03v1.03h-12.03zM261 187h13.03v1.03h-13.03zM260 188h13.03v1.03h-13.03zM259 189h13.03v1.03h-13.03zM258 190h12.03v1.03h-12.03zM256 191h13.03v1.03h-13.03zM255 192h13.03v1.03h-13.03zM255 193h12.03v1.03h-12.03zM253 194h12.03v1.03h-12.03zM251 195h13.03v1.03h-13.03zM250 196h13.03v1.03h-13.03zM250 197h11.03v1.03h-11.03zM248 198h12.03v1.03h-12.03zM246 199h13.03v1.03h-13.03zM245 200h13.03v1.03h-13.03zM244 201h12.03v1.03h-12.03zM243 202h12.03v1.03h-12.03zM242 203h12.03v1.03h-12.03zM241 204h11.03v1.03h-11.03zM238 205h12.03v1.03h-12.03zM237 206h13.03v1.03h-13.03zM236 207h13.03v1.03h-13.03zM235 208h12.03v1.03h-12.03zM233 209h13.03v1.03h-13.03zM232 210h13.03v1.03h-13.03zM231 211h13.03v1.03h-13.03zM230 212h12.03v1.03h-12.03zM228 213h13.03v1.03h-13.03zM227 214h13.03v1.03h-13.03zM226 215h13.03v1.03h-13.03zM224 216h13.03v1.03h-13.03zM223 217h13.03v1.03h-13.03zM222 218h13.03v1.03h-13.03zM221 219h12.03v1.03h-12.03zM219 220h13.03v1.03h-13.03zM218 221h13.03v1.03h-13.03zM217 222h13.03v1.03h-13.03zM216 223h12.03v1.03h-12.03zM215 224h12.03v1.03h-12.03zM213 225h13.03v1.03h-13.03zM213 226h12.03v1.03h-12.03zM212 227h11.03v1.03h-11.03zM210 228h12.03v1.03h-12.03zM208 229h13.03v1.03h-13.03zM206 230h13.03v1.03h-13.03zM206 231h12.03v1.03h-12.03zM204 232h13.03v1.03h-13.03zM203 233h12.03v1.03h-12.03zM202 234h12.03v1.03h-12.03zM200 235h13.03v1.03h-13.03zM198 236h14.03v1.03h-14.03zM197 237h14.03v1.03h-14.03zM197 238h11.03v1.03h-11.03zM195 239h12.03v1.03h-12.03zM195 240h11.03v1.03h-11.03zM192 241h13.03v1.03h-13.03zM191 242h12.03v2.03h-12.03zM189 244h12.03v2.03h-12.03zM187 246h2.03v1.03h-2.03zM191 246h8.03v1.03h-8.03zM186 247h12.03v1.03h-12.03zM183 248h2.03v1.03h-2.03zM186 248h8.03v1.03h-8.03zM182 249h12.03v1.03h-12.03zM181 250h12.03v1.03h-12.03zM180 251h11.03v1.03h-11.03zM180 252h9.03v1.03h-9.03zM190 252h1.03v1.03h-1.03zM177 253h12.03v2.03h-12.03zM176 255h10.03v1.03h-10.03zM174 256h12.03v1.03h-12.03zM174 257h9.03v1.03h-9.03zM184 257h1.03v1.03h-1.03zM176 258h7.03v1.03h-7.03zM176 259h6.03v1.03h-6.03zM176 260h3.03v1.03h-3.03zM180 260h1.03v1.03h-1.03zM167 261h2.03v2.03h-2.03zM177 261h2.03v1.03h-2.03zM165 263h4.03v1.03h-4.03zM170 263h1.03v1.03h-1.03zM164 264h9.03v2.03h-9.03zM162 266h9.03v1.03h-9.03zM160 267h12.03v1.03h-12.03zM160 268h11.03v1.03h-11.03zM159 269h11.03v1.03h-11.03zM157 270h12.03v1.03h-12.03zM157 271h10.03v1.03h-10.03zM160 272h7.03v1.03h-7.03zM159 273h7.03v1.03h-7.03zM159 274h5.03v1.03h-5.03zM149 275h2.03v2.03h-2.03zM149 283h2.03v1.03h-2.03zM160 275h2.03v1.03h-2.03zM148 277h3.03v1.03h-3.03zM148 282h3.03v1.03h-3.03zM152 277h1.03v1.03h-1.03zM152 282h1.03v1.03h-1.03zM146 278h9.03v2.03h-9.03zM149 280h4.03v1.03h-4.03zM148 281h6.03v1.03h-6.03zM127 293h2.03v2.03h-2.03zM127 301h2.03v1.03h-2.03zM126 295h3.03v1.03h-3.03zM126 300h3.03v1.03h-3.03zM130 295h1.03v1.03h-1.03zM130 300h1.03v1.03h-1.03zM124 296h9.03v2.03h-9.03zM127 298h4.03v1.03h-4.03zM126 299h6.03v1.03h-6.03zM119 300h2.03v2.03h-2.03zM119 308h2.03v1.03h-2.03zM118 302h3.03v1.03h-3.03zM118 307h3.03v1.03h-3.03zM122 302h1.03v1.03h-1.03zM122 307h1.03v1.03h-1.03zM116 303h9.03v2.03h-9.03zM119 305h4.03v1.03h-4.03zM118 306h6.03v1.03h-6.03zM90 322h2.03v2.03h-2.03zM90 330h2.03v1.03h-2.03zM89 324h3.03v1.03h-3.03zM89 329h3.03v1.03h-3.03zM93 324h1.03v1.03h-1.03zM93 329h1.03v1.03h-1.03zM87 325h9.03v2.03h-9.03zM90 327h4.03v1.03h-4.03zM89 328h6.03v1.03h-6.03z"/>
<path fill="#0000ff" d="M194 247h1.03v1.03h-1.03zM191 248h1.03v1.03h-1.03zM179 255h1.03v1.03h-1.03zM162 268h1.03v1.03h-1.03z"/>
<rect x="256" y="34" width="109.03" height="47.03" fill="#fff"/>
<path fill="#000" d="M256 34h109.03v1.03h-109.03zM256 80h109.03v1.03h-109.03zM256 35h1.03v45.03h-1.03zM364 35h1.03v45.03h-1.03z"/>
<path fill="#0000ff" d="M264 45h41.03v2.03h-41.03z"/>
<path fill="#ff0000" d="M283 63h2.03v1.03h-2.03zM283 70h2.03v2.03h-2.03zM282 64h5.03v2.03h-5.03zM280 66h9.03v2.03h-9.03zM281 68h6.03v1.03h-6.03zM282 69h3.03v1.03h-3.03zM286 69h1.03v1.03h-1.03z"/>
</g>
<g>
<text transform="translate(107.83 62.20) scale(0.895 1)" font-size="66.3">140</text>
<text transform="translate(107.83 242.60) scale(0.895 1)" font-size="66.3">120</text>
<text transform="translate(107.83 426.80) scale(0.895 1)" font-size="66.3">100</text>
<text transform="translate(139.53 610.60) scale(0.9167 1)" font-size="66.3">80</text>
<text transform="translate(139.32 794.70) scale(0.9198 1)" font-size="66.3">60</text>
<text transform="translate(137.13 978.80) scale(0.9538 1)" font-size="66.3">40</text>
<text transform="translate(139.36 1163.00) scale(0.922 1)" font-size="66.3">20</text>
<text transform="translate(174.10 1347.10) scale(0.8969 1)" font-size="66.3">0</text>
<text transform="translate(207.94 1392.00) scale(0.8868 1)" font-size="66.3">0</text>
<text transform="translate(421.18 1392.00) scale(0.9174 1)" font-size="66.3">20</text>
<text transform="translate(652.14 1392.00) scale(0.9494 1)" font-size="66.3">40</text>
<text transform="translate(887.02 1392.00) scale(0.9198 1)" font-size="66.3">60</text>
<text transform="translate(1120.23 1392.00) scale(0.9182 1)" font-size="66.3">80</text>
<text transform="translate(1340.31 1392.00) scale(0.899 1)" font-size="66.3">100</text>
<text transform="translate(1573.42 1392.00) scale(0.897 1)" font-size="66.3">120</text>
<text transform="translate(1810.01 1392.00) scale(0.899 1)" font-size="66.3">140</text>
<text transform="translate(1155.81 200.90) scale(0.8846 1)" font-size="66.9">True</text>
<text transform="translate(1155.14 279.80) scale(0.9234 1)" font-size="66.9">Kriging</text>
<text transform="translate(703.00 1467.20) scale(0.9 1)" font-size="66.9"><tspan x="-6.35" letter-spacing="0.668">Predicted</tspan> <tspan x="296.11" letter-spacing="1.388">SPL</tspan> <tspan x="440.67" letter-spacing="-1.833">value</tspan> <tspan x="608.89" letter-spacing="0.37">(dB)</tspan></text>
<text transform="translate(72.30 966.90) rotate(-90) scale(0.93 1)" font-size="66.9"><tspan x="-2.0" letter-spacing="-1.77">Actual</tspan> <tspan x="193.3" letter-spacing="-0.676">SPL</tspan> <tspan x="333.48" letter-spacing="-0.059">value</tspan> <tspan x="507.9" letter-spacing="-0.853">(dB)</tspan></text>
</g>
<g>
<rect x="111.45" y="54.9" width="12" height="9" fill="#fff"/>
<rect x="127.16" y="54.9" width="12" height="9" fill="#fff"/>
<rect x="111.45" y="235.3" width="12" height="9" fill="#fff"/>
<rect x="127.16" y="235.3" width="12" height="9" fill="#fff"/>
<rect x="111.45" y="419.5" width="12" height="9" fill="#fff"/>
<rect x="127.16" y="419.5" width="12" height="9" fill="#fff"/>
<rect x="1343.97" y="1384.7" width="12" height="9" fill="#fff"/>
<rect x="1359.72" y="1384.7" width="12" height="9" fill="#fff"/>
<rect x="1577.23" y="1384.7" width="12" height="9" fill="#fff"/>
<rect x="1592.98" y="1384.7" width="12" height="9" fill="#fff"/>
<rect x="1813.75" y="1384.7" width="12" height="9" fill="#fff"/>
<rect x="1829.47" y="1384.7" width="12" height="9" fill="#fff"/>
</g>
</svg>
</body>
</html>
